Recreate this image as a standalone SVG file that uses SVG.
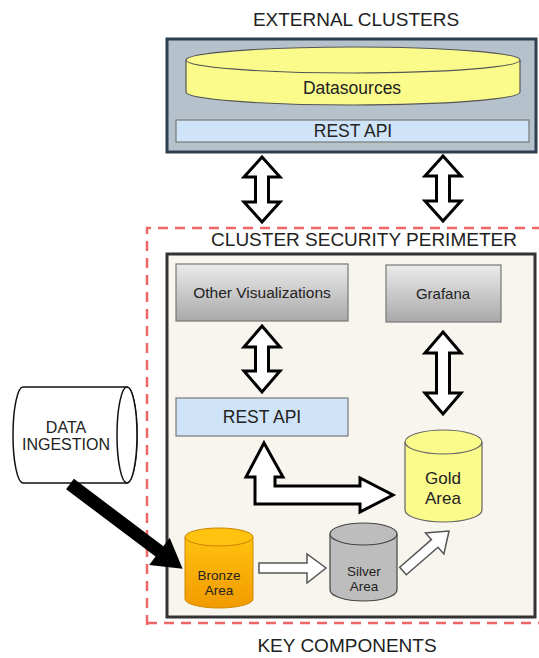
<svg xmlns="http://www.w3.org/2000/svg" width="539" height="658" viewBox="0 0 539 658">
<defs>
<linearGradient id="gGray" x1="0" y1="0" x2="0" y2="1"><stop offset="0" stop-color="#ebebeb"/><stop offset="1" stop-color="#a9a9a9"/></linearGradient>
<linearGradient id="gBronze" x1="0" y1="0" x2="0" y2="1"><stop offset="0" stop-color="#ffc20e"/><stop offset="1" stop-color="#f29a00"/></linearGradient>
</defs>
<style>
text{font-family:"Liberation Sans",Arial,sans-serif;fill:#222;text-anchor:middle}
.t{font-size:19px}
.n{font-size:15px}
.m{font-size:17.5px}
.g{font-size:17px}
.s{font-size:13.5px}
.arr{fill:#fff;stroke:#000;stroke-width:3;stroke-linejoin:miter}
.thin{fill:#fff;stroke:#555;stroke-width:1.5}
.box{stroke:#777;stroke-width:1.2}
</style>
<rect width="539" height="658" fill="#fff"/>
<text class="t" x="356" y="26">EXTERNAL CLUSTERS</text>
<g id="external">
<rect x="167" y="39" width="369" height="113" fill="#b5c2cb" stroke="#2c3e50" stroke-width="3"/>
</g>
<g id="datasources">
<path d="M186,60 L186,92 A167,13 0 0 0 520,92 L520,60" fill="#fbfb8c" stroke="#555" stroke-width="1.2"/>
<ellipse cx="353" cy="60" rx="167" ry="13" fill="#fbfb8c" stroke="#555" stroke-width="1.2"/>
<text class="m" x="352" y="94">Datasources</text>
</g>
<g id="rest-ext">
<rect class="box" x="176" y="120" width="353" height="22" fill="#cfe4f8"/>
<text class="m" x="353" y="137">REST API</text>
</g>
<g id="perimeter">
<path d="M147,625 L147,228 L539,228 M147,623 L539,623" fill="none" stroke="#ee6666" stroke-width="2.5" stroke-dasharray="10,7"/>
<text class="t" x="364" y="246">CLUSTER SECURITY PERIMETER</text>
</g>
<g id="inner">
<rect x="167" y="254" width="368" height="363" fill="#f7f5ee" stroke="#333" stroke-width="3"/>
</g>
<g id="other-vis">
<rect class="box" x="176" y="264" width="172" height="57" fill="url(#gGray)"/>
<text class="n" x="262" y="298" style="font-size:15.5px">Other Visualizations</text>
</g>
<g id="grafana">
<rect class="box" x="386" y="265" width="115" height="57" fill="url(#gGray)"/>
<text class="n" x="443" y="299">Grafana</text>
</g>
<g id="rest-int">
<rect class="box" x="176" y="398" width="172" height="38" fill="#cfe4f8"/>
<text class="m" x="262" y="423">REST API</text>
</g>
<g id="gold">
<path d="M405,442 L405,510 A38.5,12 0 0 0 482,510 L482,442" fill="#fbfb8c" stroke="#666" stroke-width="1.2"/>
<ellipse cx="443.5" cy="442" rx="38.5" ry="12" fill="#fbfb8c" stroke="#666" stroke-width="1.2"/>
<text class="g" x="443" y="484">Gold</text>
<text class="g" x="443" y="504">Area</text>
</g>
<g id="bronze">
<path d="M185,537 L185,599 A34,9 0 0 0 253,599 L253,537" fill="url(#gBronze)" stroke="#d08800" stroke-width="1"/>
<ellipse cx="219" cy="537" rx="34" ry="9" fill="#ffc20e" stroke="#c98400" stroke-width="1"/>
<text class="s" x="219" y="580">Bronze</text>
<text class="s" x="219" y="595">Area</text>
</g>
<g id="silver">
<path d="M330,534 L330,590 A33.5,11 0 0 0 397,590 L397,534" fill="#bdbdbd" stroke="#444" stroke-width="1.2"/>
<ellipse cx="363.5" cy="534" rx="33.5" ry="11" fill="#bdbdbd" stroke="#444" stroke-width="1.2"/>
<text class="s" x="364" y="576">Silver</text>
<text class="s" x="364" y="591">Area</text>
</g>
<g id="ingestion">
<path d="M23,387 L127,387 A10,48 0 0 1 127,483 L23,483 A10,48 0 0 1 23,387 Z" fill="#fff" stroke="#111" stroke-width="1.5"/>
<ellipse cx="127" cy="435" rx="10" ry="48" fill="#fff" stroke="#111" stroke-width="1.5"/>
<text class="n" x="66" y="433" style="font-size:16px">DATA</text>
<text class="n" x="66" y="450" style="font-size:16px">INGESTION</text>
</g>
<g id="connectors">
<path class="arr" d="M262,157 L280,177 L268.5,177 L268.5,202 L280,202 L262,222 L244,202 L255.5,202 L255.5,177 L244,177 Z"/>
<path class="arr" d="M443,156 L461,176 L449.5,176 L449.5,201 L461,201 L443,221 L425,201 L436.5,201 L436.5,176 L425,176 Z"/>
<path class="arr" d="M262,326 L280,347 L268.5,347 L268.5,371 L280,371 L262,392 L244,371 L255.5,371 L255.5,347 L244,347 Z"/>
<path class="arr" d="M443,332 L461,353 L449.5,353 L449.5,393 L461,393 L443,414 L425,393 L436.5,393 L436.5,353 L425,353 Z"/>
<path class="arr" d="M264,443 L283,477 L275,477 L275,486 L360,486 L360,478 L393,495 L360,512 L360,504 L255,504 L255,477 L246,477 Z"/>
<path class="thin" d="M259,563 L307,563 L307,554 L326,568 L307,583 L307,573 L259,573 Z"/>
<path class="thin" transform="translate(403,571) rotate(-41)" d="M0,-5 L42,-5 L42,-14 L61,0 L42,14 L42,5 L0,5 Z"/>
<path fill="#000" transform="translate(70,484) rotate(37)" d="M0,-6.5 L112,-6.5 L112,-17 L141,0 L112,17 L112,6.5 L0,6.5 Z"/>
</g>
<text class="t" x="347" y="652">KEY COMPONENTS</text>
</svg>
